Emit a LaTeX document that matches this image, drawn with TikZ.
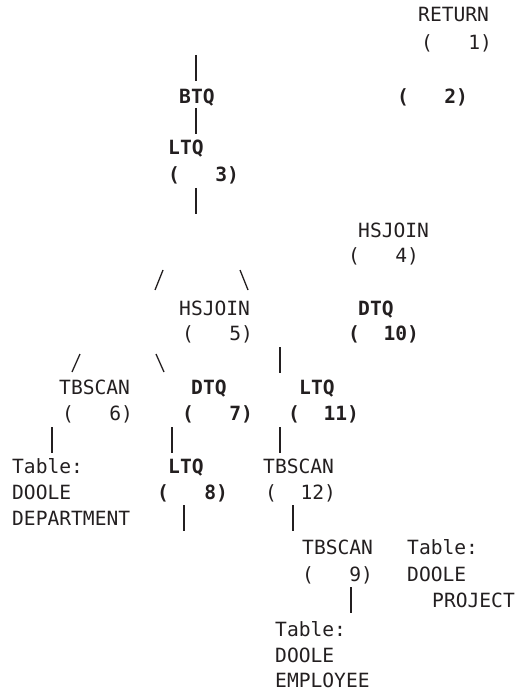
\documentclass[tikz,border=0pt]{standalone}
\usepackage{fontspec}
\setmonofont{DejaVu Sans Mono}
\definecolor{ink}{HTML}{231F20}
\tikzset{
  op/.style={anchor=base west, inner sep=0pt, text=ink,
    font=\ttfamily\fontsize{19.6}{26}\selectfont},
  opb/.style={op, font=\ttfamily\bfseries\fontsize{19.6}{26}\selectfont},
  bar/.style={ink, line width=1.3pt}
}
\begin{document}
\begin{tikzpicture}[x=1pt, y=-1pt]
    \useasboundingbox (0,0) rectangle (514,692);

    % top of the plan
    \node[op]  (ret)   at (418,22)  {RETURN};
    \node[op]  (n1)    at (421,50)  {(~~~1)};
    \node[opb] (btq)   at (179,104) {BTQ};
    \node[opb] (n2)    at (397,104) {(~~~2)};
    \node[opb] (ltqc)  at (168,155) {LTQ};
    \node[opb] (n3)    at (168,182) {(~~~3)};

    % joins
    \node[op]  (hsjd)  at (358,237) {HSJOIN};
    \node[op]  (n4)    at (348,262) {(~~~4)};
    \node[op]  (hsje)  at (179,315) {HSJOIN};
    \node[op]  (n5)    at (182,340) {(~~~5)};
    \node[opb] (dtqj)  at (358,315) {DTQ};
    \node[opb] (n10)   at (348,340) {(~~10)};

    % third row
    \node[op]  (tbsf)  at (59,394)  {TBSCAN};
    \node[op]  (n6)    at (62,420)  {(~~~6)};
    \node[opb] (dtqg)  at (191,394) {DTQ};
    \node[opb] (n7)    at (182,420) {(~~~7)};
    \node[opb] (ltqk)  at (299,394) {LTQ};
    \node[opb] (n11)   at (288,420) {(~~11)};

    % fourth row
    \node[op]  (tdept) at (12,473)  {Table:};
    \node[op]  (sdept) at (12,499)  {DOOLE};
    \node[op]  (ndept) at (12,525)  {DEPARTMENT};
    \node[opb] (ltqh)  at (168,473) {LTQ};
    \node[opb] (n8)    at (157,499) {(~~~8)};
    \node[op]  (tbsl)  at (263,473) {TBSCAN};
    \node[op]  (n12)   at (265,499) {(~~12)};

    % bottom
    \node[op]  (tbsi)  at (302,554) {TBSCAN};
    \node[op]  (n9)    at (302,581) {(~~~9)};
    \node[op]  (tproj) at (407,554) {Table:};
    \node[op]  (sproj) at (407,581) {DOOLE};
    \node[op]  (nproj) at (432,607) {PROJECT};
    \node[op]  (temp)  at (275,636) {Table:};
    \node[op]  (semp)  at (275,662) {DOOLE};
    \node[op]  (nemp)  at (275,687) {EMPLOYEE};

    % vertical bars
    \foreach \x/\y in {196/55, 196/108, 196/188, 280/347, 52/427, 172/427,
                       280/427, 184/505, 293/505, 351/587} {
        \draw[bar] (\x,\y) -- ++(0,26);
    }

    % slashes
    \draw[bar] (155,290) -- (163,270);
    \draw[bar] (240,270) -- (248,290);
    \draw[bar] (72,372) -- (80,354);
    \draw[bar] (156,354) -- (164,372);

\end{tikzpicture}
\end{document}
